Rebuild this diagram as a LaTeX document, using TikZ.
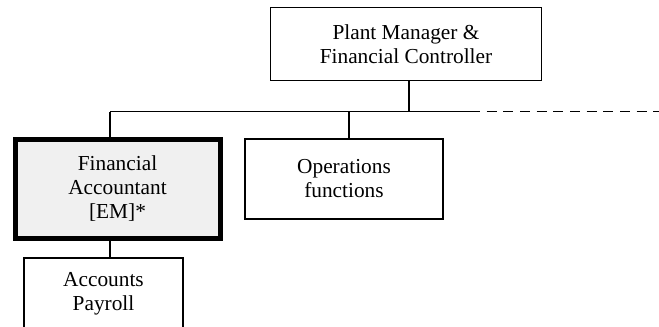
\documentclass[tikz,border=0pt]{standalone}
\usepackage{fontspec}
\setmainfont{Liberation Serif}
\usepackage{tikz}
\usetikzlibrary{positioning}

\tikzset{
    orgbox/.style={draw, line width=1pt, align=center, inner sep=0pt,
        font=\fontsize{16}{18}\selectfont},
    keybox/.style={orgbox, line width=3.75pt, fill=black!6}
}

\begin{document}
\begin{tikzpicture}[x=0.75pt, y=-0.75pt]
            \clip (0,0) rectangle (659,326);

            %Nodes
            \node[orgbox, minimum width=203.25pt, minimum height=54.75pt] at (406,44) (plant) {Plant Manager \&\\Financial Controller};
            \node[keybox, minimum width=153.75pt, minimum height=74.25pt] at (117.5,188.5) (finacc) {Financial\\Accountant\\{[EM]*}};
            \node[orgbox, minimum width=148.5pt, minimum height=60pt] at (344,179) (ops) {Operations\\functions};
            \node[orgbox, minimum width=119.25pt, minimum height=54pt] at (103.5,294) (payroll) {Accounts\\Payroll};
            \coordinate (busw) at (110,111.7);
            \coordinate (buse) at (470,111.7);
            \coordinate (busend) at (662,111.7);

            %Lines
            \draw[line width=1pt] (busw) -- (buse);
            \draw[line width=1pt, dash pattern=on 7.5pt off 5pt] (buse) -- (busend);
            \draw[line width=1pt] ([xshift=2.25pt]plant.south) -- ([xshift=2.25pt]plant.south |- busw);
            \draw[line width=1pt] (busw) -- (busw |- finacc.north);
            \draw[line width=1pt] ([xshift=3.75pt]ops.north) -- ([xshift=3.75pt]ops.north |- busw);
            \draw[line width=1pt] (finacc.south -| busw) -- (payroll.north -| busw);
        \end{tikzpicture}
\end{document}
